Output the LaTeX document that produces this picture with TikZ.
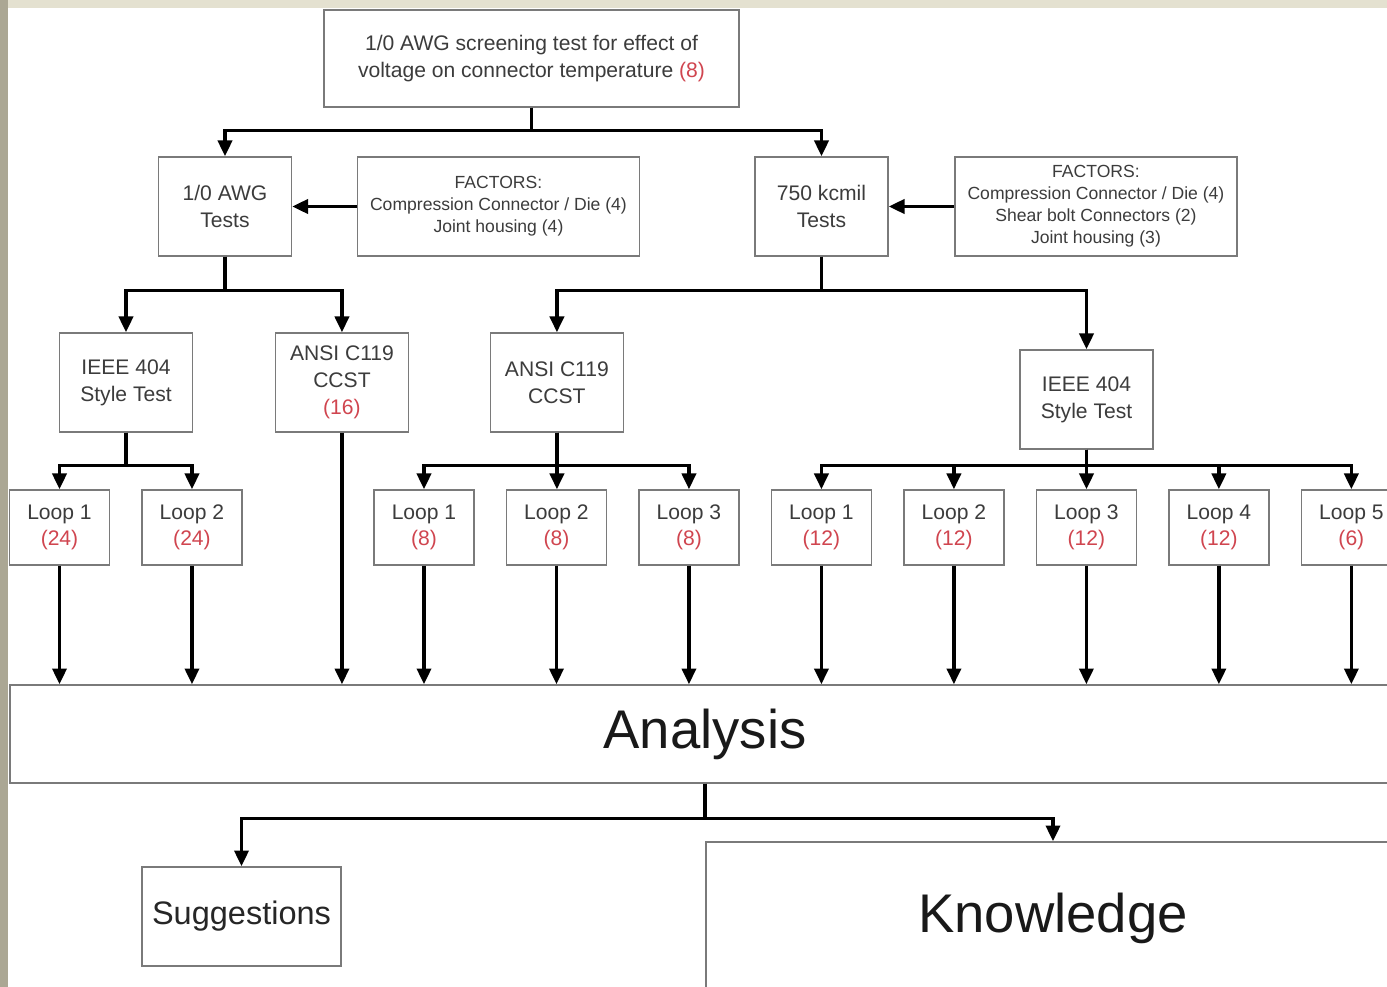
\documentclass[tikz,border=0pt]{standalone}
\usepackage{fontspec}
\setmainfont{Liberation Sans}
\usetikzlibrary{
  arrows.meta,
  positioning
}
\definecolor{scrline}{HTML}{7A7A7A}
\definecolor{scrtext}{HTML}{3C3C3C}
\definecolor{scrred}{HTML}{D0454F}
\definecolor{scrtop}{HTML}{E4E1D0}
\definecolor{scrside}{HTML}{ABA794}
\newcommand{\cnt}[1]{\textcolor{scrred}{#1}}

\begin{document}
\begin{tikzpicture}[x=0.02cm, y=-0.02cm,
      box/.style={
        rectangle, draw=scrline, line width=0.8pt, fill=white,
        minimum width=2.66cm, minimum height=1.98cm,
        font=\fontsize{12}{15.3}\selectfont\color{scrtext}, align=center
      },
      factor/.style={
        box, minimum width=5.64cm,
        font=\fontsize{10}{12.5}\selectfont\color{scrtext}
      },
      loopbox/.style={
        box, minimum width=2cm, minimum height=1.5cm,
        font=\fontsize{12}{14.8}\selectfont\color{scrtext}
      },
      bigbox/.style={
        rectangle, draw=scrline, line width=0.8pt, fill=white,
        font=\fontsize{31}{36}\selectfont\color{black!90}
      },
      arrow/.style={-{Triangle[length=9pt,width=8pt]}, line width=2pt, black}
    ]
      % Frame
      \useasboundingbox (0,0) rectangle (1387,987);
      \fill[scrside] (0,0) rectangle (8,987);
      \fill[scrtop] (8,0) rectangle (1387,8);
      \clip (0,0) rectangle (1387,987);

      % Screening test
      \node[box, minimum width=8.3cm, minimum height=1.94cm] (top) at (531.5,58.5)
        {1/0 AWG screening test for effect of\\voltage on connector temperature \cnt{(8)}};

      % Cable sizes and factors
      \node[box] (awg) at (225,206.5) {1/0 AWG\\Tests};
      \node[factor, right=1.292cm of awg] (facawg)
        {FACTORS:\\Compression Connector / Die (4)\\Joint housing (4)};
      \node[box] (kcmil) at (821.5,206.5) {750 kcmil\\Tests};
      \node[factor, right=1.312cm of kcmil] (fackcmil)
        {FACTORS:\\Compression Connector / Die (4)\\Shear bolt Connectors (2)\\Joint housing (3)};

      % Test styles
      \node[box] (ieeea) at (126,382.5) {IEEE 404\\Style Test};
      \node[box, right=1.632cm of ieeea] (ansia) {ANSI C119\\CCST\\\cnt{(16)}};
      \node[box, right=1.612cm of ansia] (ansib) {ANSI C119\\CCST};
      \node[box] (ieeeb) at (1086.5,399.5) {IEEE 404\\Style Test};

      % Loops
      \node[loopbox] (loopa1) at (59.5,527.5) {Loop 1\\\cnt{(24)}};
      \node[loopbox, right=0.622cm of loopa1] (loopa2) {Loop 2\\\cnt{(24)}};
      \node[loopbox] (loopb1) at (424,527.5) {Loop 1\\\cnt{(8)}};
      \node[loopbox, right=0.622cm of loopb1] (loopb2) {Loop 2\\\cnt{(8)}};
      \node[loopbox, right=0.622cm of loopb2] (loopb3) {Loop 3\\\cnt{(8)}};
      \node[loopbox, right=0.622cm of loopb3] (loopc1) {Loop 1\\\cnt{(12)}};
      \node[loopbox, right=0.622cm of loopc1] (loopc2) {Loop 2\\\cnt{(12)}};
      \node[loopbox, right=0.622cm of loopc2] (loopc3) {Loop 3\\\cnt{(12)}};
      \node[loopbox, right=0.622cm of loopc3] (loopc4) {Loop 4\\\cnt{(12)}};
      \node[loopbox, right=0.622cm of loopc4] (loopc5) {Loop 5\\\cnt{(6)}};

      % Results
      \node[bigbox, minimum width=27.8cm, minimum height=1.96cm] (analysis) at (705,734) {Analysis};
      \node[box, minimum width=3.98cm, font=\fontsize{18.5}{22}\selectfont\color{black!85}] (sugg) at (241.5,916.5) {Suggestions};
      \node[bigbox, minimum width=13.88cm, minimum height=3.04cm] (know) at (1053,918) {Knowledge};

      % Arrows
      \draw[arrow] (top.south) -- ++(0,23) -| (awg.north);
      \draw[arrow] (top.south) -- ++(0,23) -| (kcmil.north);
      \draw[arrow] (facawg.west) -- (awg.east);
      \draw[arrow] (fackcmil.west) -- (kcmil.east);

      \draw[arrow] (awg.south) -- ++(0,34) -| (ieeea.north);
      \draw[arrow] (awg.south) -- ++(0,34) -| (ansia.north);
      \draw[arrow] (kcmil.south) -- ++(0,34) -| (ansib.north);
      \draw[arrow] (kcmil.south) -- ++(0,34) -| (ieeeb.north);

      \draw[arrow] (ieeea.south) -- ++(0,33) -| (loopa1.north);
      \draw[arrow] (ieeea.south) -- ++(0,33) -| (loopa2.north);
      \draw[arrow] (ansib.south) -- ++(0,33) -| (loopb1.north);
      \draw[arrow] (ansib.south) -- (ansib.south |- loopb2.north);
      \draw[arrow] (ansib.south) -- ++(0,33) -| (loopb3.north);
      \draw[arrow] (ieeeb.south) -- ++(0,16) -| (loopc1.north);
      \draw[arrow] (ieeeb.south) -- ++(0,16) -| (loopc2.north);
      \draw[arrow] (ieeeb.south) -- (ieeeb.south |- loopc3.north);
      \draw[arrow] (ieeeb.south) -- ++(0,16) -| (loopc4.north);
      \draw[arrow] (ieeeb.south) -- ++(0,16) -| (loopc5.north);

      % Into analysis
      \draw[arrow] (loopa1.south) -- (loopa1.south |- analysis.north);
      \draw[arrow] (loopa2.south) -- (loopa2.south |- analysis.north);
      \draw[arrow] (ansia.south) -- (ansia.south |- analysis.north);
      \draw[arrow] (loopb1.south) -- (loopb1.south |- analysis.north);
      \draw[arrow] (loopb2.south) -- (loopb2.south |- analysis.north);
      \draw[arrow] (loopb3.south) -- (loopb3.south |- analysis.north);
      \draw[arrow] (loopc1.south) -- (loopc1.south |- analysis.north);
      \draw[arrow] (loopc2.south) -- (loopc2.south |- analysis.north);
      \draw[arrow] (loopc3.south) -- (loopc3.south |- analysis.north);
      \draw[arrow] (loopc4.south) -- (loopc4.south |- analysis.north);
      \draw[arrow] (loopc5.south) -- (loopc5.south |- analysis.north);

      \draw[arrow] (analysis.south) -- ++(0,35) -| (sugg.north);
      \draw[arrow] (analysis.south) -- ++(0,35) -| (know.north);
    \end{tikzpicture}
\end{document}
